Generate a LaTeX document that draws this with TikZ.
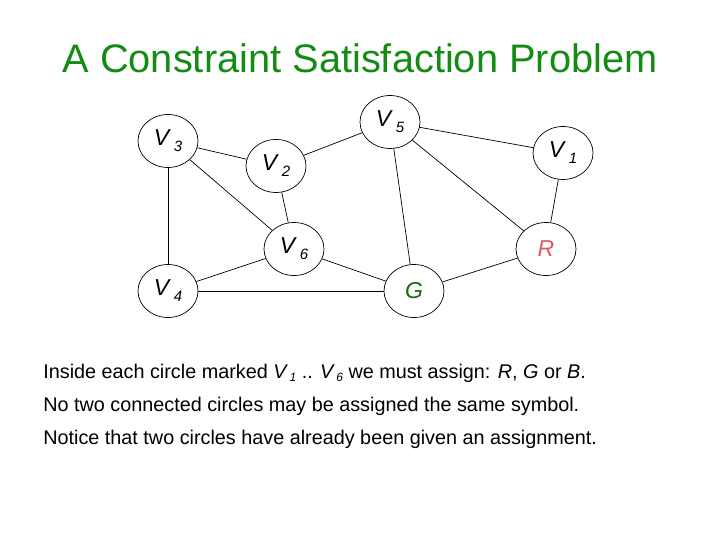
\documentclass[tikz,border=0pt]{standalone}
\usepackage{fontspec}
\setmainfont{Liberation Sans}
\usetikzlibrary{shapes.geometric}
\definecolor{titlegreen}{RGB}{20,140,20}
\definecolor{redlab}{RGB}{222,90,100}
\definecolor{greenlab}{RGB}{25,105,25}
\newcommand{\vsub}[1]{\textit{V}\kern3pt\raisebox{-6pt}{\fontsize{15}{15}\selectfont\textit{#1}}}
\newcommand{\tsub}[1]{\textit{V}\kern1.5pt\raisebox{-3.5pt}{\fontsize{12}{12}\selectfont\textit{#1}}}
\tikzset{
  var/.style={draw, ellipse, minimum width=60pt, minimum height=53pt, inner sep=0pt, fill=white, font=\fontsize{23}{23}\selectfont},
  line/.style={anchor=base west, inner sep=0pt, font=\fontsize{19.8}{19.8}\selectfont}
}
\begin{document}
\begin{tikzpicture}[x=1pt, y=-1pt, line width=0.7pt]
            \useasboundingbox (0,0) rectangle (720,540);
            \node[anchor=base, inner sep=0pt, text=titlegreen, font=\fontsize{39.8}{39.8}\selectfont] (title) at (360,73) {A Constraint Satisfaction Problem};
            \node[var] (v3) at (168,141) {\vsub{3}};
            \node[var] (v2) at (276,166) {\vsub{2}};
            \node[var] (v5) at (390,122) {\vsub{5}};
            \node[var] (v1) at (563,153) {\vsub{1}};
            \node[var] (v6) at (294,249) {\vsub{6}};
            \node[var] (r) at (546,249) {\textcolor{redlab}{\textit{R}}};
            \node[var] (v4) at (168,291) {\vsub{4}};
            \node[var] (g) at (414,291) {\textcolor{greenlab}{\textit{G}}};
            \foreach \a/\b in {v3/v2, v3/v4, v3/v6, v2/v5, v2/v6, v5/v1, v5/g, v5/r, v1/r, v6/v4, v6/g, v4/g, g/r}
                \draw (\a) -- (\b);
            \node[line] (line1) at (43,378) {Inside each circle marked \tsub{1} .. \tsub{6} we must assign: \textit{R}, \textit{G} or \textit{B}.};
            \node[line] (line2) at (43,411) {No two connected circles may be assigned the same symbol.};
            \node[line] (line3) at (43,444) {Notice that two circles have already been given an assignment.};
        \end{tikzpicture}
\end{document}
